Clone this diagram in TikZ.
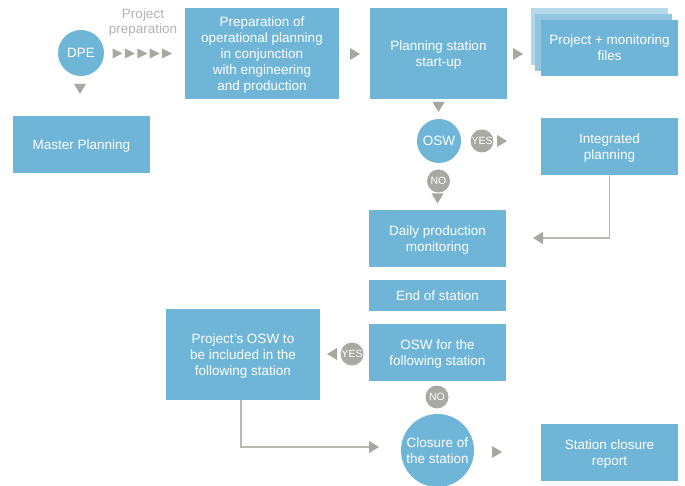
\documentclass[tikz,border=0pt]{standalone}
\usepackage{fontspec}
\setmainfont{Liberation Sans}
\usetikzlibrary{arrows.meta,calc}
\definecolor{boxblue}{HTML}{6FB5D7}
\definecolor{midblue}{HTML}{92C5DF}
\definecolor{paleblue}{HTML}{B5D7EA}
\definecolor{tricol}{HTML}{A8A8A2}
\definecolor{dotgray}{HTML}{A9A9A3}
\definecolor{linegray}{HTML}{B9B9B4}
\definecolor{labgray}{HTML}{B2B2B2}
\tikzset{
  txt/.style={font=\fontsize{13.5}{16}\selectfont, text=white, align=center, inner sep=0pt, text depth=0pt},
  box/.style={txt, fill=boxblue, rectangle, minimum height=57, minimum width=137},
  circ/.style={txt, fill=boxblue, circle},
  yn/.style={circle, fill=dotgray, text=white, inner sep=0pt, minimum size=23,
     font=\fontsize{10.5}{11}\selectfont},
  conn/.style={draw=linegray, line width=1.5pt,
     -{Triangle[width=12pt,length=10pt,color=tricol]}},
  rtri/.pic={\fill[tricol] (5,0) -- (-5,6) -- (-5,-6) -- cycle;},
  ltri/.pic={\fill[tricol] (-5,0) -- (5,6) -- (5,-6) -- cycle;},
  dtri/.pic={\fill[tricol] (0,5) -- (-6,-5) -- (6,-5) -- cycle;},
  stri/.pic={\fill[tricol] (5,0) -- (-5,5) -- (-5,-5) -- cycle;},
}
\begin{document}
\begin{tikzpicture}[x=1pt,y=-1pt]
\useasboundingbox (0,0) rectangle (685,486);

% top row
\node[circ, minimum size=46] (dpe) at (81,53) {DPE};
\node[font=\fontsize{13.5}{15}\selectfont, text=labgray, align=center, inner sep=0pt] (pp) at (143,23) {Project\\preparation};
\foreach \i in {0,...,4} { \pic at ({117.5+12.4*\i},53.5) {stri}; }
\node[box, minimum width=154, minimum height=91] (prep) at (262,53.5) {Preparation of\\operational planning\\in conjunction\\with engineering\\and production};
\pic at (355,54) {rtri};
\node[box, minimum height=91] (start) at (438.5,53.5) {Planning station\\start-up};
\pic at (518,54) {rtri};
\node[rectangle, fill=paleblue, minimum width=137, minimum height=57, inner sep=0pt] (fback) at (599.5,36.5) {};
\node[rectangle, fill=midblue, minimum width=137, minimum height=57, inner sep=0pt] (fmid) at (603.5,42.5) {};
\node[box, minimum height=56] (files) at (609.5,48) {Project + monitoring\\files};

% master planning
\pic at (80,89) {dtri};
\node[box] (master) at (81.5,144.5) {Master Planning};

% OSW decision
\pic at (438.5,107) {dtri};
\node[circ, minimum size=44] (osw) at (439,141) {OSW};
\node[yn] (yes1) at (482,141) {YES};
\pic at (502,141) {rtri};
\node[box] (integ) at (609.5,146.5) {Integrated\\planning};
\node[yn] (no1) at (438.5,181) {NO};
\pic at (437.5,198.5) {dtri};

\node[box] (daily) at (437.5,238.5) {Daily production\\monitoring};
\coordinate (dailyin) at (533,238);
\draw[conn] (integ.south) |- (dailyin);

\node[box, minimum height=31] (end) at (437.5,295.5) {End of station};
\node[box] (oswnext) at (437.5,352.5) {OSW for the\\following station};
\node[yn] (yes2) at (352,354) {YES};
\pic at (332,354) {ltri};
\node[box, minimum width=154, minimum height=91] (projosw) at (243,354.5) {Project's OSW to\\be included in the\\following station};
\node[yn] (no2) at (437,397) {NO};

\node[circ, minimum size=73] (closure) at (437.5,450.5) {Closure of\\the station};
\coordinate (closin) at (379,447);
\draw[conn] ([xshift=-2pt]projosw.south) |- (closin);
\pic at (497,452) {rtri};
\node[box] (report) at (609.5,452.5) {Station closure\\report};
\end{tikzpicture}
\end{document}
